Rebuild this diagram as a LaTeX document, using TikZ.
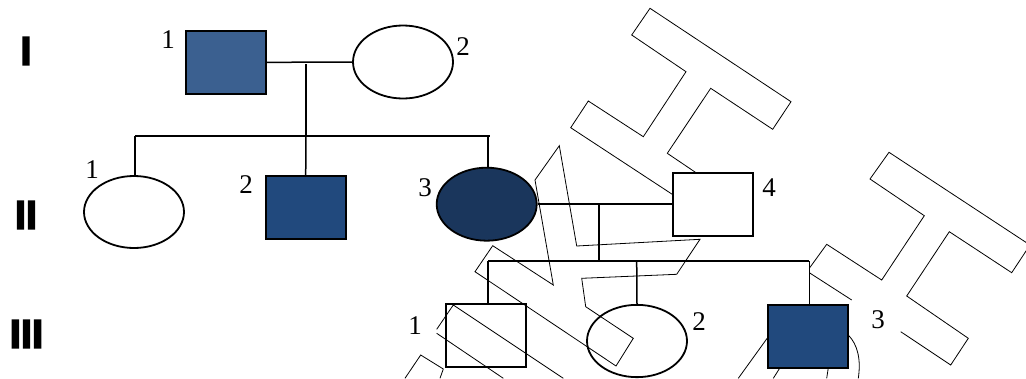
\documentclass[tikz,border=0pt]{standalone}
\usepackage{fontspec}
\setmainfont{Liberation Serif}
\newfontfamily\romanfont[FakeBold=4]{Liberation Sans Bold}
\usetikzlibrary{shapes.geometric}
\definecolor{cA}{RGB}{59,96,144}
\definecolor{cB}{RGB}{33,73,125}
\definecolor{cC}{RGB}{26,54,92}
\begin{document}
\begin{tikzpicture}[x=1pt,y=-1pt,
 male/.style={draw,line width=1.8pt,rectangle,minimum width=80pt,minimum height=63pt,inner sep=0pt,fill=white},
 female/.style={draw,line width=1.8pt,ellipse,minimum width=100pt,minimum height=73pt,inner sep=0pt,fill=white},
 rel/.style={line width=1.5pt},
 wm/.style={line width=0.8pt},
 num/.style={font=\fontsize{27}{27}\selectfont,inner sep=0pt},
 gen/.style={font=\romanfont\fontsize{40}{40}\selectfont,inner sep=0pt}]
\useasboundingbox (0,0) rectangle (1026,378);
% individuals
\node[male,fill=cA] (I1) at (225.7,62.35) {};
\node[female] (I2) at (403,62) {};
\node[female,minimum height=72pt] (II1) at (134,212) {};
\node[male,fill=cB] (II2) at (305.7,207.35) {};
\node[female,fill=cC] (II3) at (486.7,204.2) {};
\node[male] (II4) at (713,204.2) {};
\node[male] (III1) at (486.3,335.3) {};
\node[female,minimum height=72.3pt] (III2) at (637,341) {};
\node[male,fill=cB] (III3) at (808.3,336.2) {};
% labels
\node[num] (lI1) at (168,40) {1};
\node[num] (lI2) at (463,47) {2};
\node[num] (lII1) at (92,170) {1};
\node[num] (lII2) at (246,185) {2};
\node[num] (lII3) at (425,188) {3};
\node[num] (lII4) at (769,188) {4};
\node[num] (lIII1) at (415,326) {1};
\node[num] (lIII2) at (699,322) {2};
\node[num] (lIII3) at (878,320) {3};
\node[gen] (gI) at (26,51) {I};
\node[gen] (gII) at (26,215) {II};
\node[gen] (gIII) at (26.5,334) {III};
% connectors
\coordinate (j1) at (306,64);
\coordinate (s1) at (306,136);
\coordinate (s1a) at (135,136);
\coordinate (s1b) at (490,136);
\coordinate (s1c) at (488,136);
\draw[rel] (I1.east) -- (I2.west);
\draw[rel] (j1) -- (s1);
\draw[rel] (s1a) -- (s1b);
\draw[rel] (s1a) -- (s1a |- II1.north);
\draw[rel] (s1) -- (II2.north);
\draw[rel] (s1c) -- (s1c |- II3.north);
\draw[rel] (II3.east) -- (II4.west);
\coordinate (j2) at (599,204.2);
\coordinate (s2) at (599,261);
\coordinate (s2a) at (488,261);
\coordinate (s2b) at (809.3,261);
\coordinate (s2c) at (636.7,261);
\draw[rel] (j2) -- (s2);
\draw[rel] (s2a) -- (s2b);
\draw[rel] (s2a) -- (s2a |- III1.north);
\draw[rel] (s2c) -- (III2.north);
\draw[rel] (s2b) -- (s2b |- III3.north);
% watermark outlines
\draw[wm] (696,172.7) -- (667.3,153.3) -- (710.7,88.3) -- (772.7,129.3) -- (791,101.7) -- (650,8.3) -- (631.7,35) -- (686,71.7) -- (643.3,136.7) -- (588.3,101) -- (570.7,127.7) -- (673.3,195);
\draw[wm] (809.3,268.3) -- (826.7,244.3) -- (881.7,280) -- (924.3,215.7) -- (870,179) -- (889,152.3) -- (1030,245) -- (1011.7,272.7) -- (949.3,231.7) -- (906.7,296) -- (968.3,338.3) -- (950.7,365) -- (900.7,331.7);
\draw[wm] (809.3,272.7) -- (851.7,300);
\draw[wm] (559.3,145.7) -- (576.7,246) -- (700,239.3) -- (676.7,274.3) -- (581.7,278.3) -- (585.7,306.7) -- (633.3,338.3) -- (616,366) -- (475,271.7) -- (492.7,245.7) -- (553.3,285) -- (535,180) -- cycle;
\draw[wm] (436.7,329.3) -- (453.3,305) -- (563.3,378.3);
\draw[wm] (436.7,333.3) -- (503.3,378.3);
\draw[wm] (405,378.3) -- (420.7,355) -- (443.3,369) -- (440,378.3);
\draw[wm] (768.3,336.7) -- (738.3,378.3);
\draw[wm] (780,367.7) -- (773.3,378.3);
\draw[wm] (828.3,367.7) -- (826.7,378.3);
\draw[wm] (848.3,335) .. controls (858,345) and (861,360) .. (858.3,378.3);
\end{tikzpicture}
\end{document}
